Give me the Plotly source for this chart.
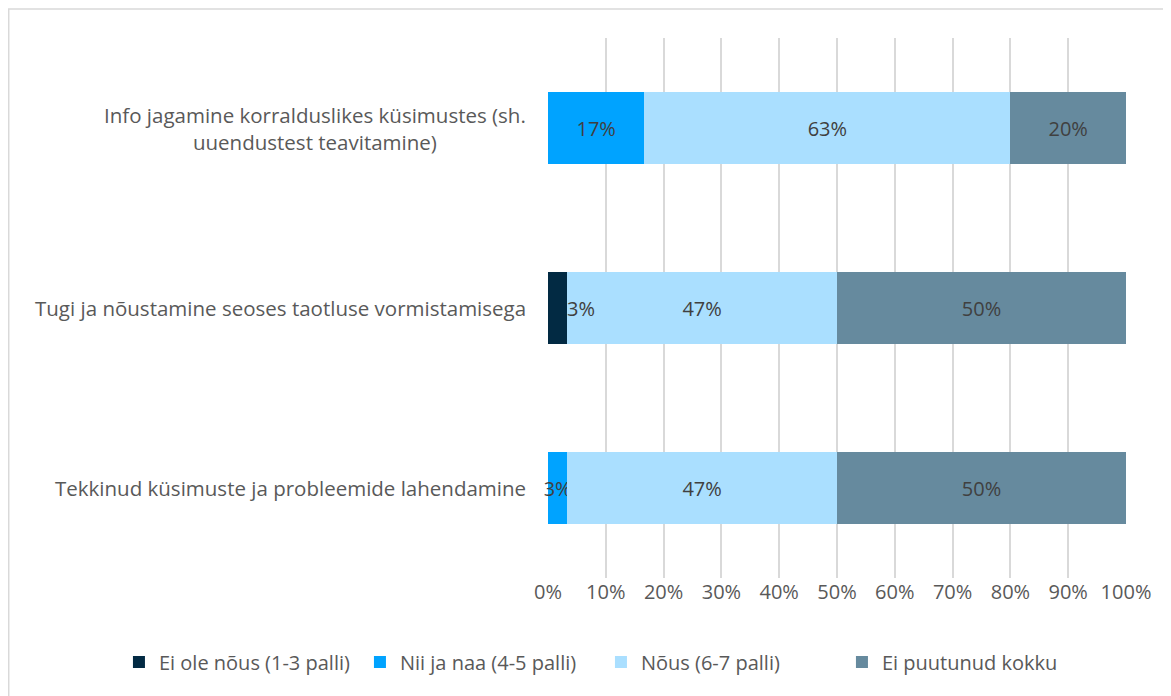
import plotly.graph_objects as go

# survey answers, share of respondents (n=30)
categories = [
    "Info jagamine korralduslikes küsimustes (sh.<br>uuendustest teavitamine)",
    "Tugi ja nõustamine seoses taotluse vormistamisega",
    "Tekkinud küsimuste ja probleemide lahendamine",
]
series_names = ["Ei ole nõus (1-3 palli)", "Nii ja naa (4-5 palli)", "Nõus (6-7 palli)", "Ei puutunud kokku"]
ei_ole_nous = [0, 3.33, 0]
nii_ja_naa = [16.67, 0, 3.33]
nous = [63.33, 46.67, 46.67]
ei_puutunud = [20, 50, 50]

colors = ["#022a43", "#00a3ff", "#aadfff", "#668a9e"]
font = "Open Sans"
txt_col = "#404040"
gray = "#595959"

fig = go.Figure()
all_vals = [ei_ole_nous, nii_ja_naa, nous, ei_puutunud]
for name, vals, col in zip(series_names, all_vals, colors):
    labels = []
    for v in vals:
        # dark segment label is moved out of the bar (added below)
        if v > 0 and col != colors[0]:
            labels.append(f"{round(v)}%")
        else:
            labels.append("")
    fig.add_trace(go.Bar(
        y=categories, x=vals, name=name, orientation="h",
        marker=dict(color=col, line=dict(width=0)),
        text=labels, textposition="inside", insidetextanchor="middle",
        constraintext="none", textangle=0, cliponaxis=False,
        textfont=dict(family=font, size=20, color=txt_col),
        width=0.4,
    ))

# label for the dark segment sits just right of the bar
for cat, v in zip(categories, ei_ole_nous):
    if v > 0:
        fig.add_annotation(x=v, y=cat, xref="x", yref="y", text=f"{round(v)}%",
                           showarrow=False, xanchor="left", xshift=-2,
                           font=dict(family=font, size=20, color=txt_col))

# category labels, centred lines like the original
for cat in categories:
    fig.add_annotation(x=0, y=cat, xref="paper", yref="y", text=cat,
                       showarrow=False, xanchor="right", align="center", xshift=-20,
                       font=dict(family=font, size=20.5, color=gray))

fig.add_shape(type="rect", xref="paper", yref="paper",
              x0=-0.933, x1=1.2, y0=-0.4, y1=1.0537,
              line=dict(color="#d9d9d9", width=1.5), layer="below")

fig.update_layout(
    barmode="stack",
    width=1163, height=688,
    margin=dict(l=540, r=45, t=30, b=118),
    plot_bgcolor="white", paper_bgcolor="white",
    font=dict(family=font, size=20, color=gray),
    showlegend=True,
    legend=dict(orientation="h", x=-0.7423, xanchor="left", y=-0.1556, yanchor="middle",
                font=dict(family=font, size=20, color=gray), traceorder="normal",
                itemwidth=30, entrywidth=196, entrywidthmode="pixels"),
    xaxis=dict(range=[0, 100], dtick=10, ticksuffix="%", showgrid=True,
               gridcolor="#d9d9d9", gridwidth=1.5, zeroline=False, showline=False,
               tickfont=dict(family=font, size=20, color=gray), ticklen=0),
    yaxis=dict(autorange="reversed", showticklabels=False, showgrid=False,
               showline=False, zeroline=False),
)

fig.write_html("out.html")
